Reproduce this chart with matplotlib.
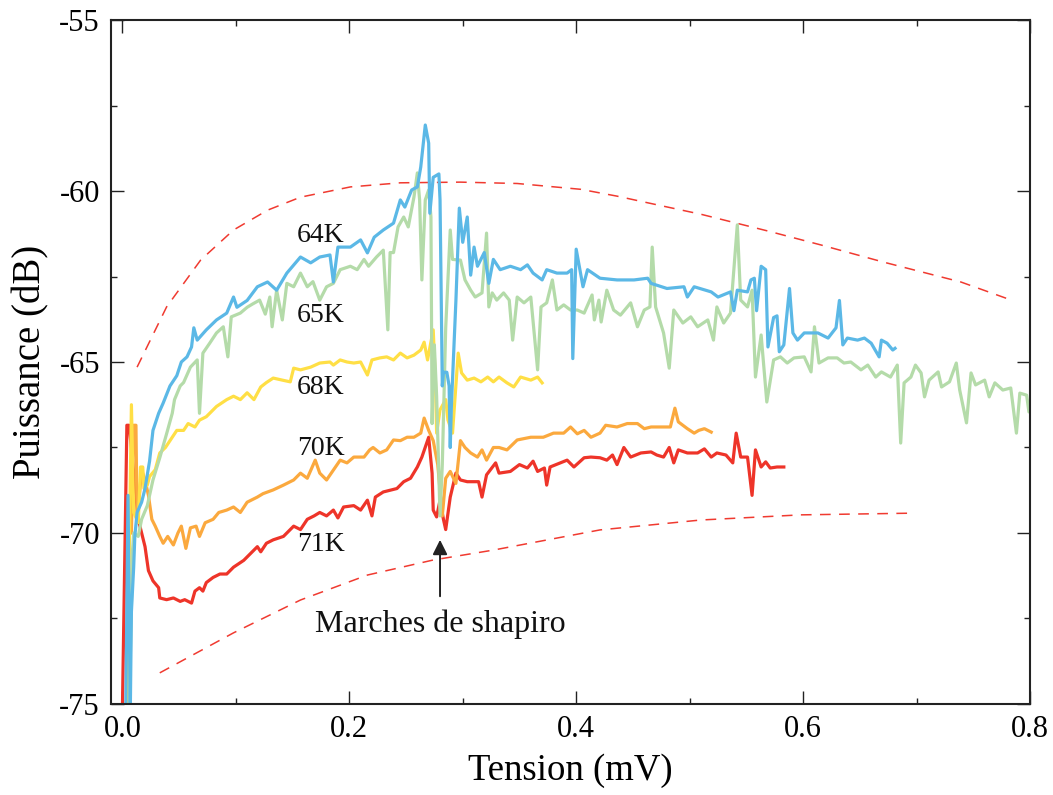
import matplotlib
matplotlib.use("Agg")
import matplotlib.pyplot as plt
from matplotlib.ticker import MultipleLocator

plt.rcParams['font.family'] = ['Liberation Serif', 'DejaVu Serif']

# ---------------- data ----------------
# 64K (blue)
x64 = [0.003, 0.005, 0.007, 0.008, 0.010, 0.011, 0.013, 0.017, 0.020, 0.024, 0.027, 0.032, 0.036,
       0.042, 0.048, 0.052, 0.057, 0.061, 0.063, 0.066, 0.074, 0.083, 0.092, 0.098, 0.101, 0.110,
       0.119, 0.128, 0.136, 0.145, 0.157, 0.166, 0.174, 0.183, 0.186, 0.190, 0.201, 0.210, 0.216,
       0.222, 0.230, 0.239, 0.245, 0.249, 0.255, 0.260, 0.263, 0.267, 0.270, 0.271, 0.274, 0.279,
       0.280, 0.282, 0.283, 0.286, 0.288, 0.289, 0.290, 0.294, 0.297, 0.300, 0.304, 0.307, 0.310,
       0.313, 0.319, 0.323, 0.327, 0.333, 0.342, 0.351, 0.357, 0.362, 0.370, 0.374, 0.383, 0.392,
       0.396, 0.397, 0.400, 0.406, 0.410, 0.421, 0.436, 0.451, 0.463, 0.466, 0.480, 0.495, 0.498,
       0.504, 0.519, 0.525, 0.536, 0.539, 0.542, 0.551, 0.554, 0.557, 0.559, 0.563, 0.567, 0.569,
       0.574, 0.577, 0.579, 0.583, 0.588, 0.591, 0.595, 0.601, 0.613, 0.622, 0.629, 0.632, 0.635,
       0.639, 0.648, 0.654, 0.660, 0.667, 0.669, 0.674, 0.679, 0.681]
y64 = [-75.3, -68.9, -75.3, -72.3, -71.0, -70.1, -69.4, -69.1, -68.7, -67.9, -67.0, -66.5, -66.2,
       -65.7, -65.4, -65.0, -64.85, -64.56, -64.0, -64.36, -64.06, -63.77, -63.57, -63.1, -63.4, -63.2,
       -62.8, -62.66, -62.9, -62.4, -61.93, -62.1, -61.93, -61.87, -62.66, -61.64, -61.64, -61.43, -61.81,
       -61.35, -61.14, -60.94, -60.26, -60.47, -59.97, -59.88, -59.3, -58.07, -58.6, -60.65, -59.6, -59.5,
       -60.26, -65.7, -65.3, -65.3, -65.7, -67.5, -66.3, -63.2, -60.5, -61.5, -60.76, -62.46, -61.64,
       -62.2, -61.8, -62.7, -62.0, -62.3, -62.2, -62.3, -62.16, -62.4, -62.6, -62.3, -62.4, -62.4,
       -62.3, -64.9, -61.7, -62.8, -62.3, -62.55, -62.6, -62.6, -62.55, -62.7, -62.85, -62.8, -63.1,
       -62.8, -62.95, -63.1, -62.95, -63.5, -62.9, -62.95, -62.6, -62.55, -63.5, -62.2, -62.3, -64.56,
       -63.7, -63.65, -64.7, -64.5, -62.85, -64.15, -64.36, -64.15, -64.15, -64.3, -64.0, -63.2, -64.5,
       -64.3, -64.36, -64.3, -64.45, -64.85, -64.36, -64.45, -64.65, -64.6]

# 65K (green)
x65 = [0.006, 0.009, 0.010, 0.014, 0.017, 0.022, 0.027, 0.033, 0.039, 0.044, 0.046, 0.051, 0.054,
       0.060, 0.066, 0.068, 0.071, 0.077, 0.083, 0.089, 0.093, 0.096, 0.104, 0.110, 0.115, 0.121,
       0.126, 0.130, 0.132, 0.136, 0.141, 0.145, 0.151, 0.157, 0.163, 0.168, 0.174, 0.180, 0.186,
       0.192, 0.201, 0.207, 0.213, 0.217, 0.224, 0.230, 0.234, 0.236, 0.239, 0.243, 0.248, 0.252,
       0.257, 0.260, 0.262, 0.264, 0.267, 0.270, 0.272, 0.273, 0.275, 0.277, 0.280, 0.282, 0.285,
       0.289, 0.291, 0.298, 0.302, 0.307, 0.311, 0.317, 0.321, 0.323, 0.326, 0.330, 0.336, 0.341,
       0.344, 0.348, 0.354, 0.360, 0.366, 0.369, 0.374, 0.379, 0.383, 0.389, 0.395, 0.401, 0.407,
       0.414, 0.416, 0.420, 0.422, 0.427, 0.433, 0.439, 0.448, 0.454, 0.460, 0.465, 0.467, 0.470,
       0.477, 0.482, 0.486, 0.494, 0.501, 0.507, 0.516, 0.521, 0.524, 0.530, 0.536, 0.542, 0.545,
       0.551, 0.555, 0.558, 0.563, 0.568, 0.574, 0.580, 0.586, 0.592, 0.601, 0.607, 0.610, 0.614,
       0.622, 0.630, 0.636, 0.642, 0.651, 0.657, 0.664, 0.669, 0.677, 0.683, 0.686, 0.689, 0.695,
       0.699, 0.704, 0.707, 0.711, 0.719, 0.722, 0.729, 0.735, 0.738, 0.744, 0.748, 0.752, 0.760,
       0.764, 0.769, 0.776, 0.783, 0.788, 0.791, 0.797, 0.799, 0.804]
y65 = [-75.3, -70.5, -70.0, -70.1, -69.6, -69.2, -68.45, -67.8, -67.1, -66.5, -66.1, -65.7, -65.6,
       -65.15, -64.94, -66.5, -64.74, -64.45, -64.15, -63.97, -64.85, -63.68, -63.57, -63.4, -63.3, -63.19,
       -63.6, -63.1, -63.97, -62.9, -63.77, -62.7, -62.8, -62.4, -62.8, -62.65, -63.19, -62.8, -62.7,
       -62.3, -62.2, -62.3, -62.0, -62.2, -61.93, -61.73, -64.06, -61.8, -61.8, -61.05, -60.76, -61.05,
       -60.18, -59.47, -60.26, -62.6, -60.26, -59.97, -60.76, -66.8, -64.5, -66.0, -69.5, -68.0, -64.0,
       -61.14, -62.0, -62.02, -62.6, -62.9, -63.1, -62.98, -61.23, -63.39, -62.98, -63.19, -62.98, -63.19,
       -64.36, -63.1, -63.27, -63.1, -65.23, -63.39, -63.27, -62.6, -63.48, -63.33, -63.48, -63.48, -63.57,
       -63.04, -63.77, -63.19, -63.83, -62.9, -63.48, -63.63, -63.27, -63.97, -63.48, -63.39, -61.64, -63.39,
       -64.15, -65.18, -63.48, -63.86, -63.68, -63.97, -63.77, -64.36, -63.39, -63.86, -63.57, -60.99, -63.19,
       -63.39, -62.9, -65.44, -64.21, -66.17, -64.94, -64.85, -65.03, -64.88, -64.85, -65.29, -63.97, -65.03,
       -64.88, -64.88, -65.03, -65.0, -65.23, -65.09, -65.44, -65.29, -65.44, -65.09, -67.37, -65.61, -65.44,
       -65.09, -65.32, -66.02, -65.53, -65.29, -65.73, -65.58, -65.03, -65.82, -66.78, -65.32, -65.67, -65.53,
       -66.02, -65.61, -65.82, -65.76, -67.08, -65.91, -65.97, -66.46, -65.76]

# 68K (yellow)
x68 = [0.004, 0.008, 0.010, 0.014, 0.016, 0.018, 0.019, 0.022, 0.024, 0.029, 0.033, 0.038, 0.044,
       0.048, 0.054, 0.058, 0.064, 0.068, 0.074, 0.083, 0.092, 0.098, 0.104, 0.110, 0.116, 0.122,
       0.127, 0.133, 0.141, 0.148, 0.151, 0.157, 0.166, 0.174, 0.183, 0.186, 0.192, 0.198, 0.204,
       0.210, 0.216, 0.220, 0.227, 0.233, 0.239, 0.245, 0.251, 0.257, 0.263, 0.266, 0.269, 0.274,
       0.276, 0.277, 0.280, 0.285, 0.287, 0.291, 0.296, 0.299, 0.304, 0.310, 0.316, 0.322, 0.327,
       0.332, 0.339, 0.345, 0.351, 0.360, 0.366, 0.370]
y68 = [-75.3, -66.25, -69.4, -69.7, -68.07, -68.07, -68.7, -68.6, -68.35, -68.15, -67.66, -67.5, -67.2,
       -67.0, -67.0, -66.8, -66.9, -66.7, -66.6, -66.3, -66.1, -66.0, -66.1, -65.9, -66.1, -65.73,
       -65.6, -65.47, -65.53, -65.58, -65.18, -65.23, -65.15, -65.03, -65.0, -65.09, -64.94, -65.0, -65.03,
       -65.0, -65.38, -64.94, -64.88, -64.85, -64.94, -64.74, -64.88, -64.8, -64.65, -64.42, -64.94, -64.06,
       -65.61, -67.08, -66.4, -66.1, -66.7, -67.08, -64.74, -65.32, -65.53, -65.47, -65.58, -65.44, -65.58,
       -65.44, -65.61, -65.73, -65.44, -65.53, -65.44, -65.61]

# 70K (orange)
x70 = [0.008, 0.010, 0.012, 0.013, 0.017, 0.020, 0.023, 0.026, 0.029, 0.033, 0.036, 0.040, 0.045,
       0.049, 0.052, 0.056, 0.060, 0.065, 0.068, 0.073, 0.080, 0.085, 0.092, 0.098, 0.104, 0.110,
       0.119, 0.124, 0.133, 0.142, 0.151, 0.157, 0.163, 0.170, 0.174, 0.180, 0.186, 0.192, 0.198,
       0.204, 0.213, 0.218, 0.221, 0.227, 0.233, 0.239, 0.245, 0.251, 0.257, 0.263, 0.266, 0.270,
       0.274, 0.278, 0.282, 0.285, 0.289, 0.294, 0.298, 0.302, 0.307, 0.313, 0.317, 0.321, 0.327,
       0.332, 0.339, 0.348, 0.360, 0.371, 0.380, 0.389, 0.395, 0.401, 0.407, 0.413, 0.421, 0.426,
       0.436, 0.445, 0.454, 0.460, 0.466, 0.474, 0.483, 0.487, 0.490, 0.498, 0.504, 0.508, 0.513,
       0.519]
y70 = [-70.0, -66.85, -66.85, -69.7, -68.16, -68.45, -68.9, -69.6, -69.8, -70.1, -70.3, -70.1, -70.35,
       -70.0, -69.8, -70.45, -69.85, -69.8, -70.1, -69.7, -69.6, -69.4, -69.33, -69.24, -69.4, -69.1,
       -68.95, -68.85, -68.74, -68.6, -68.45, -68.25, -68.4, -67.87, -68.25, -68.45, -68.16, -67.87, -67.95,
       -67.78, -67.78, -67.57, -67.5, -67.66, -67.57, -67.28, -67.3, -67.2, -67.2, -67.08, -66.64, -67.0,
       -67.3, -68.0, -69.5, -68.4, -68.2, -68.55, -67.3, -67.5, -67.66, -67.78, -67.57, -67.87, -67.5,
       -67.5, -67.57, -67.28, -67.2, -67.2, -67.08, -67.08, -66.9, -67.1, -67.0, -67.2, -67.08, -66.85,
       -66.9, -66.8, -66.8, -66.95, -66.9, -66.9, -66.9, -66.35, -66.75, -66.95, -67.08, -67.0, -66.95,
       -67.05]

# 71K (red)
x71 = [0.000, 0.004, 0.006, 0.014, 0.020, 0.023, 0.027, 0.032, 0.033, 0.039, 0.045, 0.051, 0.055,
       0.058, 0.061, 0.064, 0.068, 0.071, 0.074, 0.080, 0.086, 0.092, 0.098, 0.107, 0.113, 0.119,
       0.122, 0.127, 0.133, 0.142, 0.148, 0.151, 0.157, 0.163, 0.169, 0.174, 0.180, 0.186, 0.190,
       0.195, 0.204, 0.210, 0.216, 0.220, 0.223, 0.230, 0.236, 0.242, 0.248, 0.254, 0.260, 0.264,
       0.270, 0.273, 0.274, 0.277, 0.280, 0.283, 0.285, 0.289, 0.294, 0.298, 0.304, 0.310, 0.314,
       0.317, 0.321, 0.329, 0.332, 0.342, 0.350, 0.357, 0.362, 0.366, 0.372, 0.374, 0.377, 0.386,
       0.392, 0.398, 0.407, 0.413, 0.421, 0.427, 0.432, 0.436, 0.442, 0.448, 0.457, 0.466, 0.471,
       0.477, 0.482, 0.486, 0.490, 0.498, 0.507, 0.513, 0.519, 0.524, 0.532, 0.538, 0.541, 0.545,
       0.551, 0.555, 0.558, 0.563, 0.567, 0.571, 0.577, 0.583]
y71 = [-75.3, -66.85, -66.85, -69.6, -70.4, -71.1, -71.4, -71.6, -71.9, -71.95, -71.9, -72.0, -71.95,
       -72.0, -72.05, -71.7, -71.6, -71.7, -71.45, -71.3, -71.2, -71.2, -71.0, -70.8, -70.6, -70.4,
       -70.55, -70.3, -70.2, -70.1, -69.9, -69.8, -69.9, -69.6, -69.5, -69.4, -69.5, -69.33, -69.56,
       -69.24, -69.2, -69.33, -69.04, -69.5, -68.95, -68.8, -68.75, -68.7, -68.5, -68.4, -68.07, -67.78,
       -67.2, -68.25, -69.33, -69.53, -69.04, -69.6, -69.9, -68.95, -68.25, -68.45, -68.5, -68.5, -68.5,
       -68.95, -68.3, -67.95, -68.25, -68.2, -68.0, -68.1, -67.9, -68.2, -68.1, -68.6, -68.07, -67.95,
       -67.87, -68.07, -67.8, -67.78, -67.8, -67.87, -67.72, -68.0, -67.5, -67.78, -67.66, -67.63, -67.72,
       -67.78, -67.5, -67.95, -67.57, -67.66, -67.66, -67.54, -67.78, -67.66, -67.72, -67.95, -67.08, -67.78,
       -67.78, -68.9, -67.57, -68.07, -67.92, -68.1, -68.07, -68.07]

# dashed envelopes
x_upper = [0.013, 0.039, 0.069, 0.098, 0.128, 0.157, 0.201, 0.245, 0.298, 0.348, 0.404, 0.436,
           0.468, 0.510, 0.569, 0.616, 0.671, 0.739, 0.781]
y_upper = [-65.15, -63.39, -62.02, -61.14, -60.56, -60.18, -59.88, -59.76, -59.74, -59.78, -59.95,
           -60.15, -60.38, -60.68, -61.17, -61.58, -62.08, -62.66, -63.16]
x_lower = [0.033, 0.098, 0.157, 0.216, 0.274, 0.327, 0.421, 0.510, 0.598, 0.697]
y_lower = [-74.09, -72.92, -71.96, -71.23, -70.79, -70.50, -69.91, -69.62, -69.47, -69.42]

labels = ["64K", "65K", "68K", "70K", "71K"]
label_x = [0.175, 0.175, 0.175, 0.175, 0.175]
label_y = [-61.3, -63.65, -65.76, -67.52, -70.35]

xticks = [0.0, 0.2, 0.4, 0.6, 0.8]
yticks = [-75, -70, -65, -60, -55]

# ---------------- figure ----------------
fig = plt.figure(figsize=(10.53, 7.95), dpi=100)
ax = fig.add_axes([0.1054, 0.1145, 0.8728, 0.8603])

c_blue = '#5BB8E6'
c_green = '#B4DBA9'
c_yellow = '#FFDF45'
c_orange = '#FBA93E'
c_red = '#EE3429'
lw = 2.3

ax.plot(x_upper, y_upper, color='#F03A30', lw=1.1, dashes=(7, 5.5))
ax.plot(x_lower, y_lower, color='#F03A30', lw=1.1, dashes=(7, 5.5))

ax.plot(x71, y71, color=c_red, lw=lw, solid_joinstyle='round')
ax.plot(x70, y70, color=c_orange, lw=lw, solid_joinstyle='round')
ax.plot(x68, y68, color=c_yellow, lw=lw, solid_joinstyle='round')
ax.plot(x65, y65, color=c_green, lw=lw, solid_joinstyle='round')
ax.plot(x64, y64, color=c_blue, lw=lw, solid_joinstyle='round')

for t, xx, yy in zip(labels, label_x, label_y):
    ax.text(xx, yy, t, fontsize=20, ha='center', va='center', color='#111111')

ax.annotate('', xy=(0.280, -70.2), xytext=(0.280, -71.85),
            arrowprops=dict(arrowstyle='-|>', color='#222222', lw=1.4, mutation_scale=22,
                            shrinkA=0, shrinkB=0))
ax.text(0.280, -72.68, 'Marches de shapiro', fontsize=23, ha='center', va='center', color='#111111')

ax.set_xlim(-0.01, 0.8)
ax.set_ylim(-75, -55)
ax.set_xticks(xticks)
ax.set_xticklabels(['0.0', '0.2', '0.4', '0.6', '0.8'])
ax.set_yticks(yticks)
ax.set_yticklabels([str(v) for v in yticks])
ax.xaxis.set_minor_locator(MultipleLocator(0.1))
ax.yaxis.set_minor_locator(MultipleLocator(2.5))
ax.tick_params(which='both', direction='in', top=True, right=True, width=1.0, color='#222222')
ax.tick_params(which='major', length=9.5, labelsize=22, pad=8)
ax.tick_params(which='minor', length=4.5)
for s in ax.spines.values():
    s.set_linewidth(1.5)
    s.set_color('#222222')

ax.set_xlabel('Tension (mV)', fontsize=26.5, labelpad=7)
ax.set_ylabel('Puissance (dB)', fontsize=28, labelpad=7)

fig.savefig('out.png', dpi=100)
